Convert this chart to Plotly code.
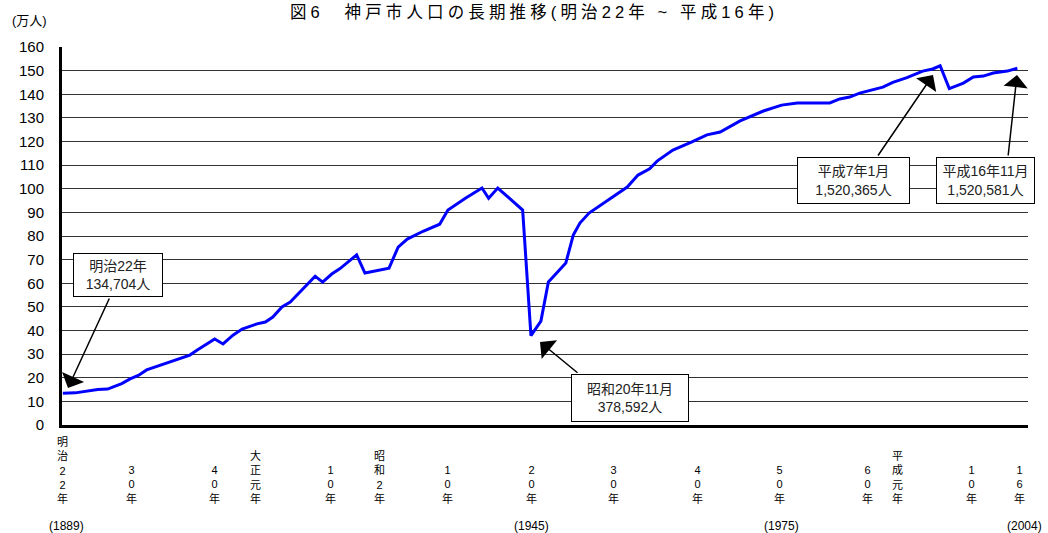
import plotly.graph_objects as go

# ---- data ----
years = [1889.1, 1890.6, 1893.3, 1894.5, 1895.1, 1896.2, 1897.2, 1898.2, 1899.2, 1902.0,
         1904.4, 1905.3, 1907.4, 1908.4, 1909.6, 1910.7, 1912.5, 1913.5, 1914.4, 1915.5,
         1916.5, 1919.5, 1920.4, 1921.5, 1922.5, 1924.5, 1925.5, 1928.4, 1929.5, 1930.6,
         1932.5, 1934.5, 1935.5, 1937.6, 1939.6, 1940.4, 1941.5, 1944.5, 1945.5, 1946.7,
         1947.6, 1948.6, 1949.7, 1950.6, 1951.4, 1952.5, 1953.6, 1955.3, 1957.1, 1958.4,
         1959.8, 1960.7, 1962.6, 1964.9, 1966.7, 1968.3, 1970.7, 1973.5, 1975.7, 1977.6,
         1981.5, 1982.7, 1983.9, 1985.1, 1986.7, 1987.9, 1989.1, 1990.8, 1992.7, 1993.9,
         1994.8, 1995.9, 1997.6, 1998.8, 2000.0, 2001.2, 2002.9, 2004.1]
population = [13.47, 13.6, 15.0, 15.2, 16.0, 17.5, 19.5, 21.0, 23.3, 26.8,
              29.6, 31.7, 36.4, 34.3, 38.0, 40.6, 42.8, 43.6, 45.7, 50.0,
              52.0, 63.0, 60.5, 63.9, 66.2, 72.0, 64.3, 66.4, 75.3, 78.7,
              82.0, 85.0, 91.0, 96.0, 100.3, 96.0, 100.3, 91.0, 37.86, 44.0,
              60.5, 64.3, 68.6, 80.4, 85.5, 89.7, 92.3, 96.5, 100.7, 105.8,
              108.4, 111.7, 116.4, 119.8, 122.8, 124.0, 128.7, 132.9, 135.4, 136.3,
              136.3, 138.0, 138.8, 140.5, 141.8, 143.0, 145.0, 147.0, 149.8, 150.7,
              152.04, 142.4, 144.7, 147.3, 147.7, 149.0, 149.8, 151.0]
assert len(years) == len(population)

tick_pos = [1889.1, 1897.4, 1907.4, 1912.3, 1921.3, 1927.3, 1935.4, 1945.6, 1955.5,
            1965.6, 1975.5, 1986.0, 1989.7, 1998.6, 2004.4]
tick_labels = ["明治22年", "30年", "40年", "大正元年", "10年", "昭和2年", "10年", "20年",
               "30年", "40年", "50年", "60年", "平成元年", "10年", "16年"]
year_pos = [1889.5, 1945.6, 1975.7, 2005.0]
year_labels = ["(1889)", "(1945)", "(1975)", "(2004)"]
y_ticks = list(range(0, 161, 10))

title_text = "図6　神戸市人口の長期推移(明治22年 ~ 平成16年)"
callout_texts = ["明治22年<br>134,704人", "昭和20年11月<br>378,592人",
                 "平成7年1月<br>1,520,365人", "平成16年11月<br>1,520,581人"]

W, H = 1048, 533
L, R, T, B = 62, 20, 47, 108
PW, PH = W - L - R, H - T - B
FONT = "Liberation Sans, Arial, Noto Sans CJK JP"


def px2paper(px, py):
    return (px - L) / PW, (H - B - py) / PH


fig = go.Figure()
fig.add_trace(go.Scatter(x=years, y=population, mode="lines",
                         line=dict(color="#0000FF", width=3), showlegend=False,
                         hoverinfo="x+y"))

annotations = []
# stacked vertical tick labels
for xp, lab in zip(tick_pos, tick_labels):
    annotations.append(dict(x=xp, xref="x", y=0, yref="paper", yanchor="bottom",
                            xanchor="center", yshift=-82, showarrow=False,
                            text="<br>".join(list(lab)),
                            font=dict(family=FONT, size=11, color="#000")))
for xp, lab in zip(year_pos, year_labels):
    annotations.append(dict(x=xp, xref="x", y=0, yref="paper", yanchor="middle",
                            xanchor="center", yshift=-101, showarrow=False, text=lab,
                            font=dict(family=FONT, size=12, color="#000")))

# unit label
ux, uy = px2paper(10, 20)
annotations.append(dict(x=ux, y=uy, xref="paper", yref="paper", xanchor="left",
                        yanchor="middle", showarrow=False, text="(万人)",
                        font=dict(family=FONT, size=13, color="#000")))

# callout boxes: (center px x, center px y, width, height)
boxes = [(118, 275, 86, 40), (630, 398, 114, 44), (853.5, 180.5, 109, 43), (985.5, 180.5, 95, 43)]
for (cx, cy, bw, bh), txt in zip(boxes, callout_texts):
    bx, by = px2paper(cx, cy)
    annotations.append(dict(x=bx, y=by, xref="paper", yref="paper", xanchor="center",
                            yanchor="middle", showarrow=False, text=txt,
                            width=bw, height=bh, bgcolor="#FFFFFF", bordercolor="#000",
                            borderwidth=1, borderpad=1,
                            font=dict(family=FONT, size=14, color="#222")))

# arrows: (tip px, tail px)
arrows = [((68, 388), (110, 297)), ((540, 342), (579, 374)),
          ((933, 75), (877, 157)), ((1017, 75), (1008, 157))]
for (tx, ty), (sx, sy) in arrows:
    ax_, ay_ = px2paper(tx, ty)
    annotations.append(dict(x=ax_, y=ay_, xref="paper", yref="paper", text="",
                            showarrow=True, ax=sx - tx, ay=sy - ty,
                            arrowhead=1, arrowsize=2.7, arrowwidth=1.5,
                            arrowcolor="#000", standoff=0, startstandoff=0))

fig.update_layout(
    width=W, height=H,
    margin=dict(l=L, r=R, t=T, b=B),
    paper_bgcolor="white", plot_bgcolor="white",
    title=dict(text="\u2005".join(list(title_text)),
               x=532 / W, xanchor="center", xref="container",
               y=1 - 12 / H, yanchor="middle", yref="container",
               font=dict(family=FONT, size=16.5, color="#000")),
    xaxis=dict(range=[1889, 1889 + PW / 8.3], showgrid=False, zeroline=False,
               showline=True, linecolor="#000", linewidth=3, showticklabels=False,
               ticks="", fixedrange=True),
    yaxis=dict(range=[0, 160], tickvals=y_ticks, showgrid=True, gridcolor="#333",
               gridwidth=1, zeroline=False, showline=True, linecolor="#000",
               linewidth=3, ticks="", ticklabelstandoff=12,
               tickfont=dict(family=FONT, size=15, color="#000")),
    annotations=annotations,
)

fig.write_html("out.html", config={"displayModeBar": False},
               post_script="document.body.style.margin='0px';"
                           "document.body.style.overflow='hidden';")
